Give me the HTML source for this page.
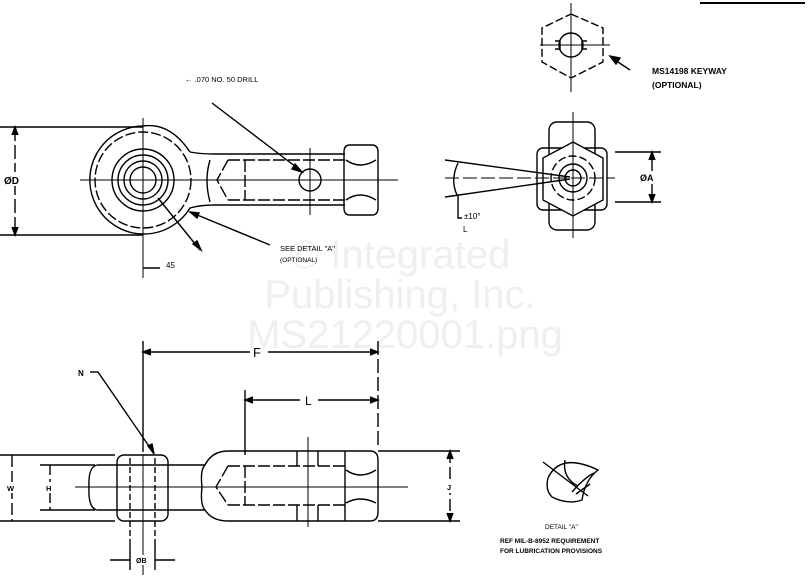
<!DOCTYPE html>
<html><head><style>
html,body{margin:0;padding:0;background:#fff;}
svg{display:block}
text{font-family:"Liberation Sans",sans-serif;fill:#000}
.w{font-family:"Liberation Sans",sans-serif;fill:#efefef;font-size:40px}
</style></head><body>
<svg width="812" height="588" viewBox="0 0 812 588" xmlns="http://www.w3.org/2000/svg" fill="none" stroke="#000" stroke-width="1.4">
<g stroke="none" text-anchor="middle">
<text class="w" x="400" y="268">© Integrated</text>
<text class="w" x="400" y="308">Publishing, Inc.</text>
<text class="w" x="405" y="348">MS21220001.png</text>
</g>
<line x1="700" y1="3" x2="805" y2="3" stroke-width="2"/>

<!-- TOP VIEW -->
<line x1="0" y1="127" x2="143" y2="127"/>
<line x1="0" y1="235" x2="143" y2="235"/>
<line x1="15" y1="127" x2="15" y2="235" stroke-dasharray="14 4"/>
<path d="M12 135 L15 127 L18 135 M12 227 L15 235 L18 227" fill="#000"/>
<rect x="3" y="172" width="16" height="14" fill="#fff" stroke="none"/>
<text x="4" y="184" font-size="10" font-weight="bold" stroke="none">ØD</text>
<path d="M143 126 A54 54 0 1 0 190 208 Q200 205 215 205 L345 205 M190 152 Q170 122 143 126 M190 152 Q200 154 215 154 L345 154"/>
<circle cx="143" cy="180" r="48" stroke-dasharray="10 3"/>
<circle cx="143" cy="180" r="31"/>
<circle cx="143" cy="180" r="25"/>
<circle cx="143" cy="180" r="19"/>
<circle cx="143" cy="180" r="13"/>
<path d="M210 160 Q204 180 210 202"/>
<path d="M228 160 L345 160 M228 200 L345 200 M228 160 L217 180 L228 200 M245 160 L245 200" stroke-dasharray="12 3"/>
<circle cx="310" cy="180" r="11"/>
<path d="M350 145 L372 145 Q378 145 378 152 L378 208 Q378 215 372 215 L350 215 Q344 215 344 208 L344 152 Q344 145 350 145 Z M346 160 Q360 170 376 160 M346 200 Q360 190 376 200"/>
<line x1="80" y1="180" x2="398" y2="180" stroke-width="1"/>
<line x1="143" y1="118" x2="143" y2="278" stroke-width="1"/>
<line x1="310" y1="148" x2="310" y2="215" stroke-width="1"/>
<line x1="212" y1="103" x2="300" y2="170"/>
<path d="M295 164 L302 172 L292 169Z" fill="#000"/>
<text x="185" y="82" font-size="7.5" stroke="none">← .070 NO. 50 DRILL</text>
<line x1="158" y1="198" x2="200" y2="250"/>
<path d="M193 244 L201 250 L197 241Z" fill="#000"/>
<line x1="190" y1="212" x2="270" y2="245"/>
<path d="M190 212 L199 213 L197 218Z" fill="#000"/>
<text x="280" y="251" font-size="7.5" stroke="none">SEE DETAIL "A"</text>
<text x="280" y="262" font-size="6.5" stroke="none">(OPTIONAL)</text>
<line x1="143" y1="268" x2="160" y2="268"/>
<text x="166" y="268" font-size="8" stroke="none">45</text>

<!-- TOP RIGHT END VIEW -->
<path d="M571 14 L603 28 L603 62 L571 78 L542 62 L542 28 Z" stroke-dasharray="8 3"/>
<circle cx="571" cy="45" r="12"/>
<line x1="571" y1="3" x2="571" y2="92" stroke-width="1"/>
<line x1="540" y1="45" x2="610" y2="45" stroke-width="1"/>
<path d="M555 41 L560 41 L560 49 L555 49 M587 41 L582 41 L582 49 L587 49"/>
<line x1="630" y1="70" x2="612" y2="58"/>
<path d="M610 56 L620 58 L616 64Z" fill="#000"/>
<text x="652" y="74" font-size="8.5" font-weight="bold" stroke="none">MS14198 KEYWAY</text>
<text x="652" y="88" font-size="8.5" font-weight="bold" stroke="none">(OPTIONAL)</text>

<!-- MIDDLE RIGHT END VIEW -->
<rect x="549" y="122" width="46" height="108" rx="8"/>
<rect x="537" y="148" width="70" height="62" rx="6"/>
<path d="M573 142 L603 158 L603 200 L573 216 L543 200 L543 158 Z" fill="#fff"/>
<circle cx="573" cy="178" r="22" stroke-dasharray="8 3"/>
<circle cx="573" cy="178" r="14"/>
<circle cx="573" cy="178" r="8"/>
<line x1="573" y1="112" x2="573" y2="238" stroke-width="1"/>
<line x1="445" y1="178" x2="615" y2="178" stroke-width="1" stroke-dasharray="14 4"/>
<line x1="445" y1="160" x2="570" y2="177"/>
<line x1="445" y1="197" x2="570" y2="179"/>
<path d="M458 163 Q450 180 457 195"/>
<line x1="615" y1="152" x2="661" y2="152"/>
<line x1="615" y1="202" x2="661" y2="202"/>
<line x1="652" y1="152" x2="652" y2="202"/>
<path d="M649 160 L652 152 L655 160 M649 194 L652 202 L655 194" fill="#000"/>
<rect x="639" y="171" width="16" height="13" fill="#fff" stroke="none"/>
<text x="640" y="181" font-size="9" font-weight="bold" stroke="none">ØA</text>
<path d="M458 195 L458 218 L462 218"/>
<text x="464" y="219" font-size="8" stroke="none">±10°</text>
<text x="463" y="232" font-size="8" stroke="none">L</text>

<!-- BOTTOM VIEW -->
<line x1="143" y1="341" x2="143" y2="452"/>
<line x1="378" y1="341" x2="378" y2="445" stroke-dasharray="14 4"/>
<line x1="143" y1="352" x2="250" y2="352"/>
<line x1="268" y1="352" x2="378" y2="352"/>
<path d="M151 349 L143 352 L151 355 M370 349 L378 352 L370 355" fill="#000"/>
<text x="253" y="357" font-size="13" stroke="none">F</text>
<line x1="245" y1="390" x2="245" y2="455"/>
<line x1="245" y1="400" x2="300" y2="400"/>
<line x1="318" y1="400" x2="378" y2="400"/>
<path d="M253 397 L245 400 L253 403 M370 397 L378 400 L370 403" fill="#000"/>
<text x="305" y="405" font-size="12" stroke="none">L</text>
<text x="78" y="376" font-size="8" font-weight="bold" stroke="none">N</text>
<line x1="90" y1="372" x2="98" y2="372"/>
<line x1="98" y1="372" x2="153" y2="452"/>
<path d="M148 446 L154 454 L152 444Z" fill="#000"/>
<line x1="0" y1="455" x2="115" y2="455"/>
<line x1="0" y1="521" x2="115" y2="521"/>
<line x1="12" y1="455" x2="12" y2="521" stroke-dasharray="12 4"/>
<rect x="6" y="482" width="12" height="11" fill="#fff" stroke="none"/>
<text x="7" y="491" font-size="7.5" font-weight="bold" stroke="none">W</text>
<line x1="40" y1="465" x2="95" y2="465"/>
<line x1="40" y1="510" x2="95" y2="510"/>
<line x1="50" y1="465" x2="50" y2="510" stroke-dasharray="10 4"/>
<rect x="45" y="482" width="10" height="11" fill="#fff" stroke="none"/>
<text x="46" y="491" font-size="7.5" font-weight="bold" stroke="none">H</text>
<path d="M97 465 L205 465 M97 510 L205 510 M97 465 Q88 467 89 487 Q88 508 97 510"/>
<rect x="117" y="455" width="51" height="66" rx="7" fill="#fff"/>
<line x1="117" y1="465" x2="168" y2="465"/>
<line x1="117" y1="510" x2="168" y2="510"/>
<line x1="130" y1="458" x2="130" y2="540" stroke-dasharray="6 3"/>
<line x1="155" y1="458" x2="155" y2="540" stroke-dasharray="6 3"/>
<line x1="143" y1="455" x2="143" y2="575" stroke-width="1"/>
<line x1="130" y1="540" x2="130" y2="570"/>
<line x1="155" y1="540" x2="155" y2="570"/>
<line x1="110" y1="560" x2="130" y2="560"/>
<line x1="155" y1="560" x2="175" y2="560"/>
<rect x="135" y="555" width="14" height="10" fill="#fff" stroke="none"/>
<text x="136" y="563" font-size="7" font-weight="bold" stroke="none">ØB</text>
<path d="M205 465 Q200 470 202 487 Q200 505 205 510 M205 465 Q212 451 228 451 L370 451 Q378 451 378 460 L378 512 Q378 521 370 521 L228 521 Q212 521 205 510"/>
<path d="M228 466 L345 466 M228 505 L345 505 M228 466 L216 487 L228 505 M245 466 L245 505" stroke-dasharray="12 3"/>
<line x1="345" y1="451" x2="345" y2="521"/>
<path d="M346 470 Q360 480 376 470 M346 503 Q360 495 376 503"/>
<line x1="297" y1="451" x2="297" y2="466"/><line x1="318" y1="451" x2="318" y2="466"/>
<line x1="297" y1="505" x2="297" y2="521"/><line x1="318" y1="505" x2="318" y2="521"/>
<line x1="308" y1="437" x2="308" y2="527" stroke-width="1"/>
<line x1="75" y1="487" x2="408" y2="487" stroke-width="1"/>
<line x1="378" y1="451" x2="460" y2="451"/>
<line x1="378" y1="521" x2="460" y2="521"/>
<line x1="450" y1="451" x2="450" y2="521" stroke-dasharray="12 4"/>
<path d="M447 459 L450 451 L453 459 M447 513 L450 521 L453 513" fill="#000"/>
<rect x="446" y="482" width="9" height="11" fill="#fff" stroke="none"/>
<text x="447" y="490" font-size="7.5" font-weight="bold" stroke="none">J</text>

<!-- DETAIL A -->
<path d="M548 478 Q560 452 598 470 Q585 480 582 500 Q568 505 552 497 Q545 490 548 478 Z M565 460 Q562 478 578 486 M543 462 L588 496 M576 494 L590 484 M572 492 Q584 478 594 473"/>
<text x="545" y="529" font-size="6.5" stroke="none">DETAIL "A"</text>
<text x="500" y="543" font-size="6.5" font-weight="bold" stroke="none">REF MIL-B-8952 REQUIREMENT</text>
<text x="500" y="553" font-size="6.5" font-weight="bold" stroke="none">FOR LUBRICATION PROVISIONS</text>
</svg>
</body></html>
